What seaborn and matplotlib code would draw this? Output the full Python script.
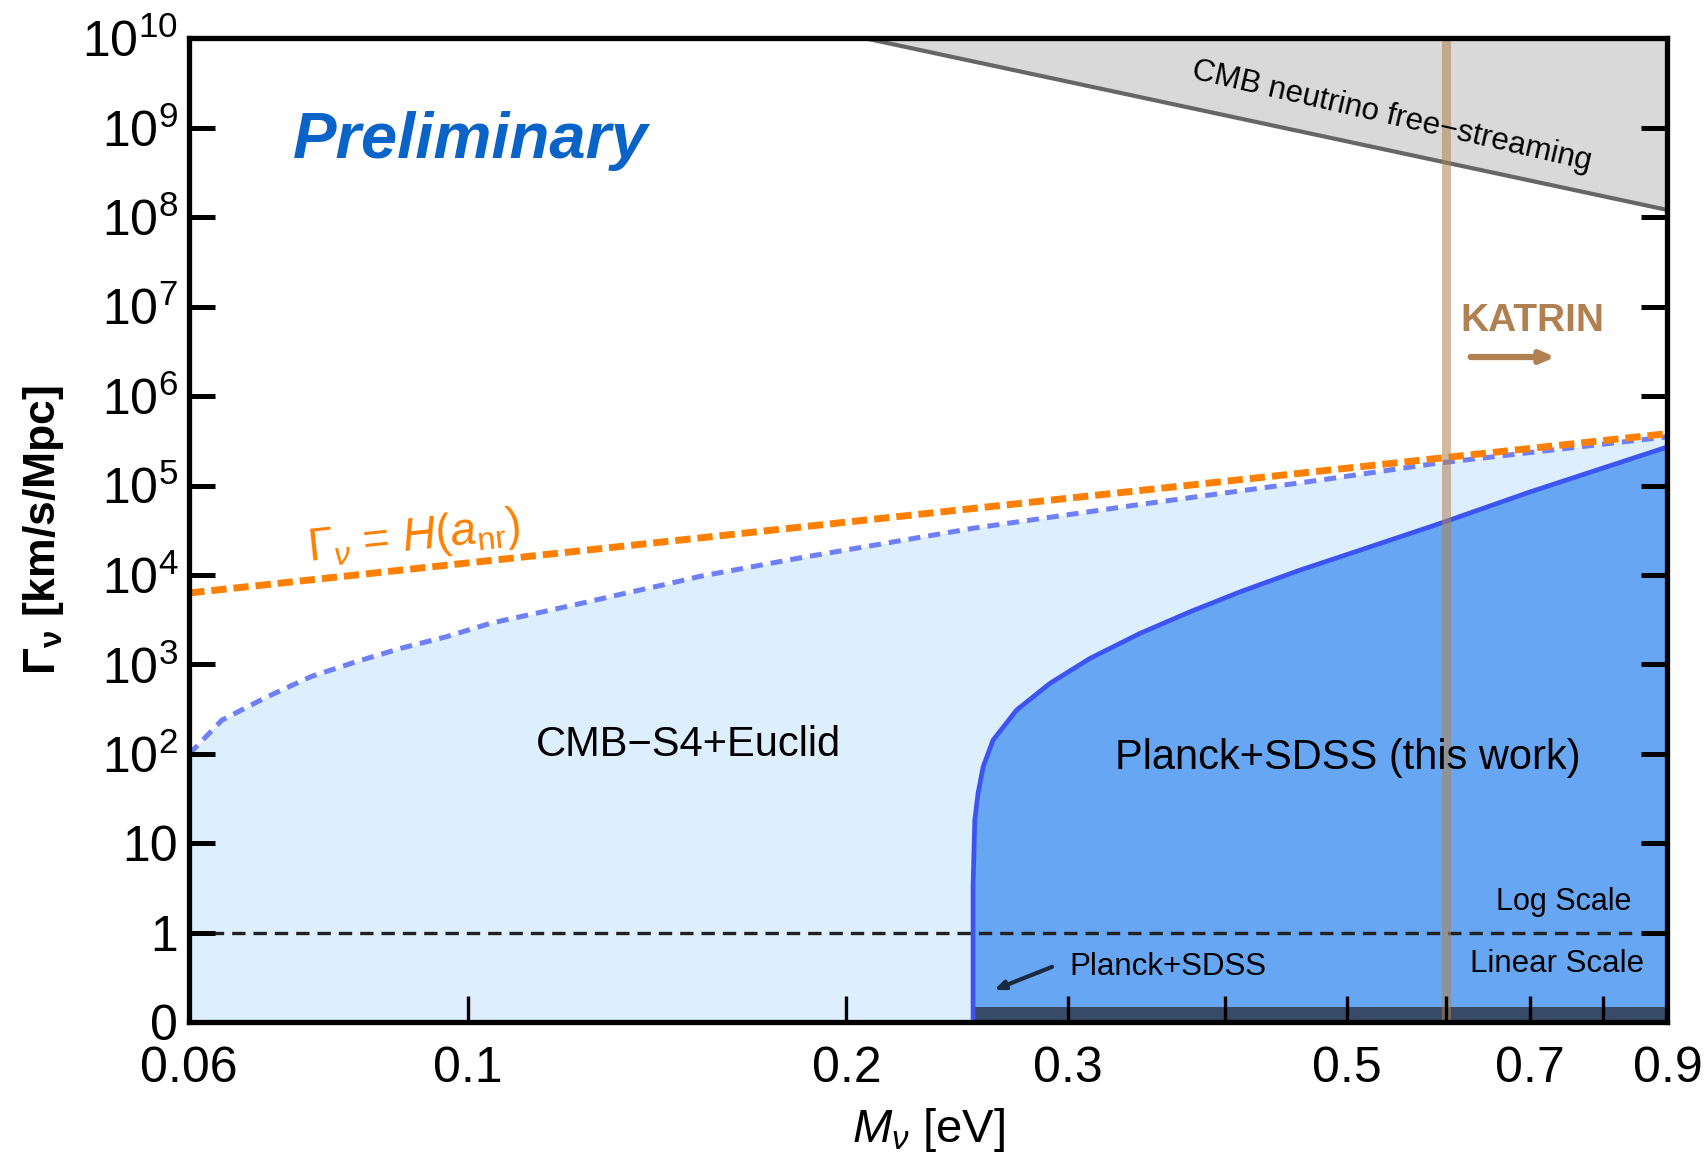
import numpy as np
import seaborn as sns
import matplotlib.pyplot as plt
from matplotlib.ticker import NullLocator

# ---- values ----
mass_ticks = [0.06, 0.1, 0.2, 0.3, 0.4, 0.5, 0.6, 0.7, 0.8, 0.9]
mass_tick_labels = ["0.06", "0.1", "0.2", "0.3", "", "0.5", "", "0.7", "", "0.9"]
gamma_ticks = [0, 1, 10, 1e2, 1e3, 1e4, 1e5, 1e6, 1e7, 1e8, 1e9, 1e10]
gamma_tick_labels = ["0", "1", "10"] + [r"$\mathregular{10^{%d}}$" % k for k in range(2, 11)]

# CMB-S4+Euclid forecast boundary (dotted)
s4_mass = [0.06, 0.0637, 0.0691, 0.075, 0.0814, 0.0884, 0.096, 0.1042, 0.1131, 0.1227,
           0.1332, 0.1446, 0.1528, 0.1835, 0.2522, 0.3463, 0.4755, 0.589, 0.9]
s4_gamma = [100, 239, 431, 733, 1070, 1518, 2035, 2890, 3720, 4780,
            6230, 8030, 9640, 15500, 33300, 62800, 114600, 177000, 350000]

# Planck+SDSS (this work) boundary (solid)
pl_mass = [0.2522, 0.2522, 0.2522, 0.2530, 0.2545, 0.2569, 0.2616, 0.2731, 0.2903, 0.3124,
           0.3424, 0.3753, 0.4114, 0.4591, 0.494, 0.594, 0.7, 0.9]
pl_gamma = [0, 0.285, 3.27, 18.2, 36.2, 71.8, 142.7, 309, 614, 1169,
            2225, 3880, 6490, 11350, 15960, 37900, 85000, 270000]

# previous Planck+SDSS band (linear part)
band_mass = [0.2522, 0.9]
band_gamma = [0.17, 0.17]

# Gamma = H(a_nr)
h_mass = [0.06, 0.9]
h_gamma = [6300, 380000]

# CMB neutrino free-streaming bound
fs_mass = [0.2066, 0.9]
fs_gamma = [1e10, 1.2e8]

katrin_mass = 0.6
xmin, xmax = 0.06, 0.9
ymin, ymax = 0, 1e10


def fwd(y):
    y = np.asarray(y, dtype=float)
    return np.where(y <= 1, y, 1 + np.log10(np.maximum(y, 1)))


def inv(u):
    u = np.asarray(u, dtype=float)
    return np.where(u <= 1, u, 10 ** (np.clip(u, 1, 20) - 1))


sns.set_style("ticks")
plt.rcParams["font.family"] = ["Liberation Sans", "DejaVu Sans"]
plt.rcParams["mathtext.fontset"] = "custom"
plt.rcParams["mathtext.rm"] = "Liberation Sans"
plt.rcParams["mathtext.it"] = "Liberation Sans:italic"
plt.rcParams["mathtext.bf"] = "Liberation Sans:bold"
for key in ["text.color", "axes.labelcolor", "xtick.color", "ytick.color", "axes.edgecolor"]:
    plt.rcParams[key] = "black"

fig, ax = plt.subplots(figsize=(17.05, 11.54), dpi=100)
fig.subplots_adjust(left=0.111, right=0.978, top=0.967, bottom=0.114)
ax.set_xscale("log")
ax.set_yscale("function", functions=(fwd, inv))

# regions
ax.fill_between(s4_mass, s4_gamma, 0, color="#ddeefd", lw=0, zorder=1)
ax.fill_between(pl_mass, pl_gamma, 0, color="#66a6f2", lw=0, zorder=3)
ax.fill_between(band_mass, band_gamma, 0, color="#374a68", lw=0, zorder=4)
ax.fill_between(fs_mass, fs_gamma, 1e10, color="#d9d9d9", lw=0, zorder=3)

# curves
sns.lineplot(x=s4_mass, y=s4_gamma, ax=ax, color="#6f7ff5", lw=3.6,
             linestyle=(0, (2.4, 1.6)), estimator=None, sort=False, zorder=2)
sns.lineplot(x=pl_mass, y=pl_gamma, ax=ax, color="#3d55f0", lw=3.4,
             estimator=None, sort=False, zorder=4)
sns.lineplot(x=fs_mass, y=fs_gamma, ax=ax, color="#666666", lw=3,
             estimator=None, sort=False, zorder=4)
sns.lineplot(x=h_mass, y=h_gamma, ax=ax, color="#ff8000", lw=5,
             linestyle=(0, (2.2, 1.0)), estimator=None, sort=False, zorder=5)
ax.axhline(1, xmin=0, xmax=0.978, color="#222222", lw=2.4,
           linestyle=(0, (4.0, 2.4)), zorder=5)
ax.axvline(katrin_mass, color="#b08250", alpha=0.55, lw=6.5, zorder=6)

ax.set_xlim(xmin, xmax)
ax.set_ylim(ymin, ymax)
ax.set_xticks(mass_ticks, labels=mass_tick_labels)
ax.set_yticks(gamma_ticks, labels=gamma_tick_labels)
ax.xaxis.set_minor_locator(NullLocator())
ax.yaxis.set_minor_locator(NullLocator())
ax.tick_params(axis="x", direction="in", length=19, width=2.4, top=False,
               labelsize=36, pad=17, color="black")
ax.tick_params(axis="y", direction="in", length=19, width=3.6, left=True, right=True,
               labelsize=36, pad=8, color="black")
ax.xaxis.set_zorder(9)
ax.yaxis.set_zorder(9)
for sp in ax.spines.values():
    sp.set_linewidth(3.8)
    sp.set_color("black")
    sp.set_zorder(10)

ax.set_xlabel(r"$M_{\nu}$ [eV]", fontsize=34, labelpad=10)
ax.set_ylabel("\u0393" + r"$_{\mathbf{\nu}}$ [km/s/Mpc]", fontsize=32, fontweight="bold", labelpad=12)

# annotations
ax.text(0.070, 0.895, "Preliminary", transform=ax.transAxes, fontsize=47,
        fontweight="bold", fontstyle="italic", color="#0a64c8", va="center", ha="left")
ax.text(0.9087, 0.7127, "KATRIN", transform=ax.transAxes, fontsize=28,
        fontweight="bold", color="#b08050", va="center", ha="center", zorder=8)
ax.annotate("", xy=(0.926, 0.676), xytext=(0.865, 0.676), xycoords="axes fraction",
            arrowprops=dict(arrowstyle="-|>,head_length=0.8,head_width=0.35",
                            color="#b08050", lw=4.5), zorder=8)
ax.text(0.338, 0.2818, "CMB\u2212S4+Euclid", transform=ax.transAxes, fontsize=30,
        va="center", ha="center", zorder=8)
ax.text(0.784, 0.2685, "Planck+SDSS (this work)", transform=ax.transAxes, fontsize=30,
        va="center", ha="center", zorder=8)
ax.text(0.8137, 0.9204, "CMB neutrino free\u2212streaming", transform=ax.transAxes,
        fontsize=22.5, rotation=-13, rotation_mode="anchor", va="center", ha="center", zorder=8)
ax.text(0.9757, 0.1227, "Log Scale", transform=ax.transAxes, fontsize=22,
        va="center", ha="right", zorder=8)
ax.text(0.9845, 0.0597, "Linear Scale", transform=ax.transAxes, fontsize=22.5,
        va="center", ha="right", zorder=8)
ax.text(0.5957, 0.0564, "Planck+SDSS", transform=ax.transAxes, fontsize=22.5,
        va="center", ha="left", zorder=8)
ax.annotate("", xy=(0.5427, 0.032), xytext=(0.5854, 0.0575), xycoords="axes fraction",
            arrowprops=dict(arrowstyle="-|>,head_length=0.6,head_width=0.25",
                            color="#1c2a40", lw=3), zorder=8)
ax.text(0.152, 0.4917, r"$\mathit{\Gamma}_{\nu}$ = $H(a_{\mathrm{nr}})$", transform=ax.transAxes,
        fontsize=33, color="#ff8000", rotation=6, rotation_mode="anchor",
        va="center", ha="center", zorder=8)

fig.savefig("out.png", dpi=100)
